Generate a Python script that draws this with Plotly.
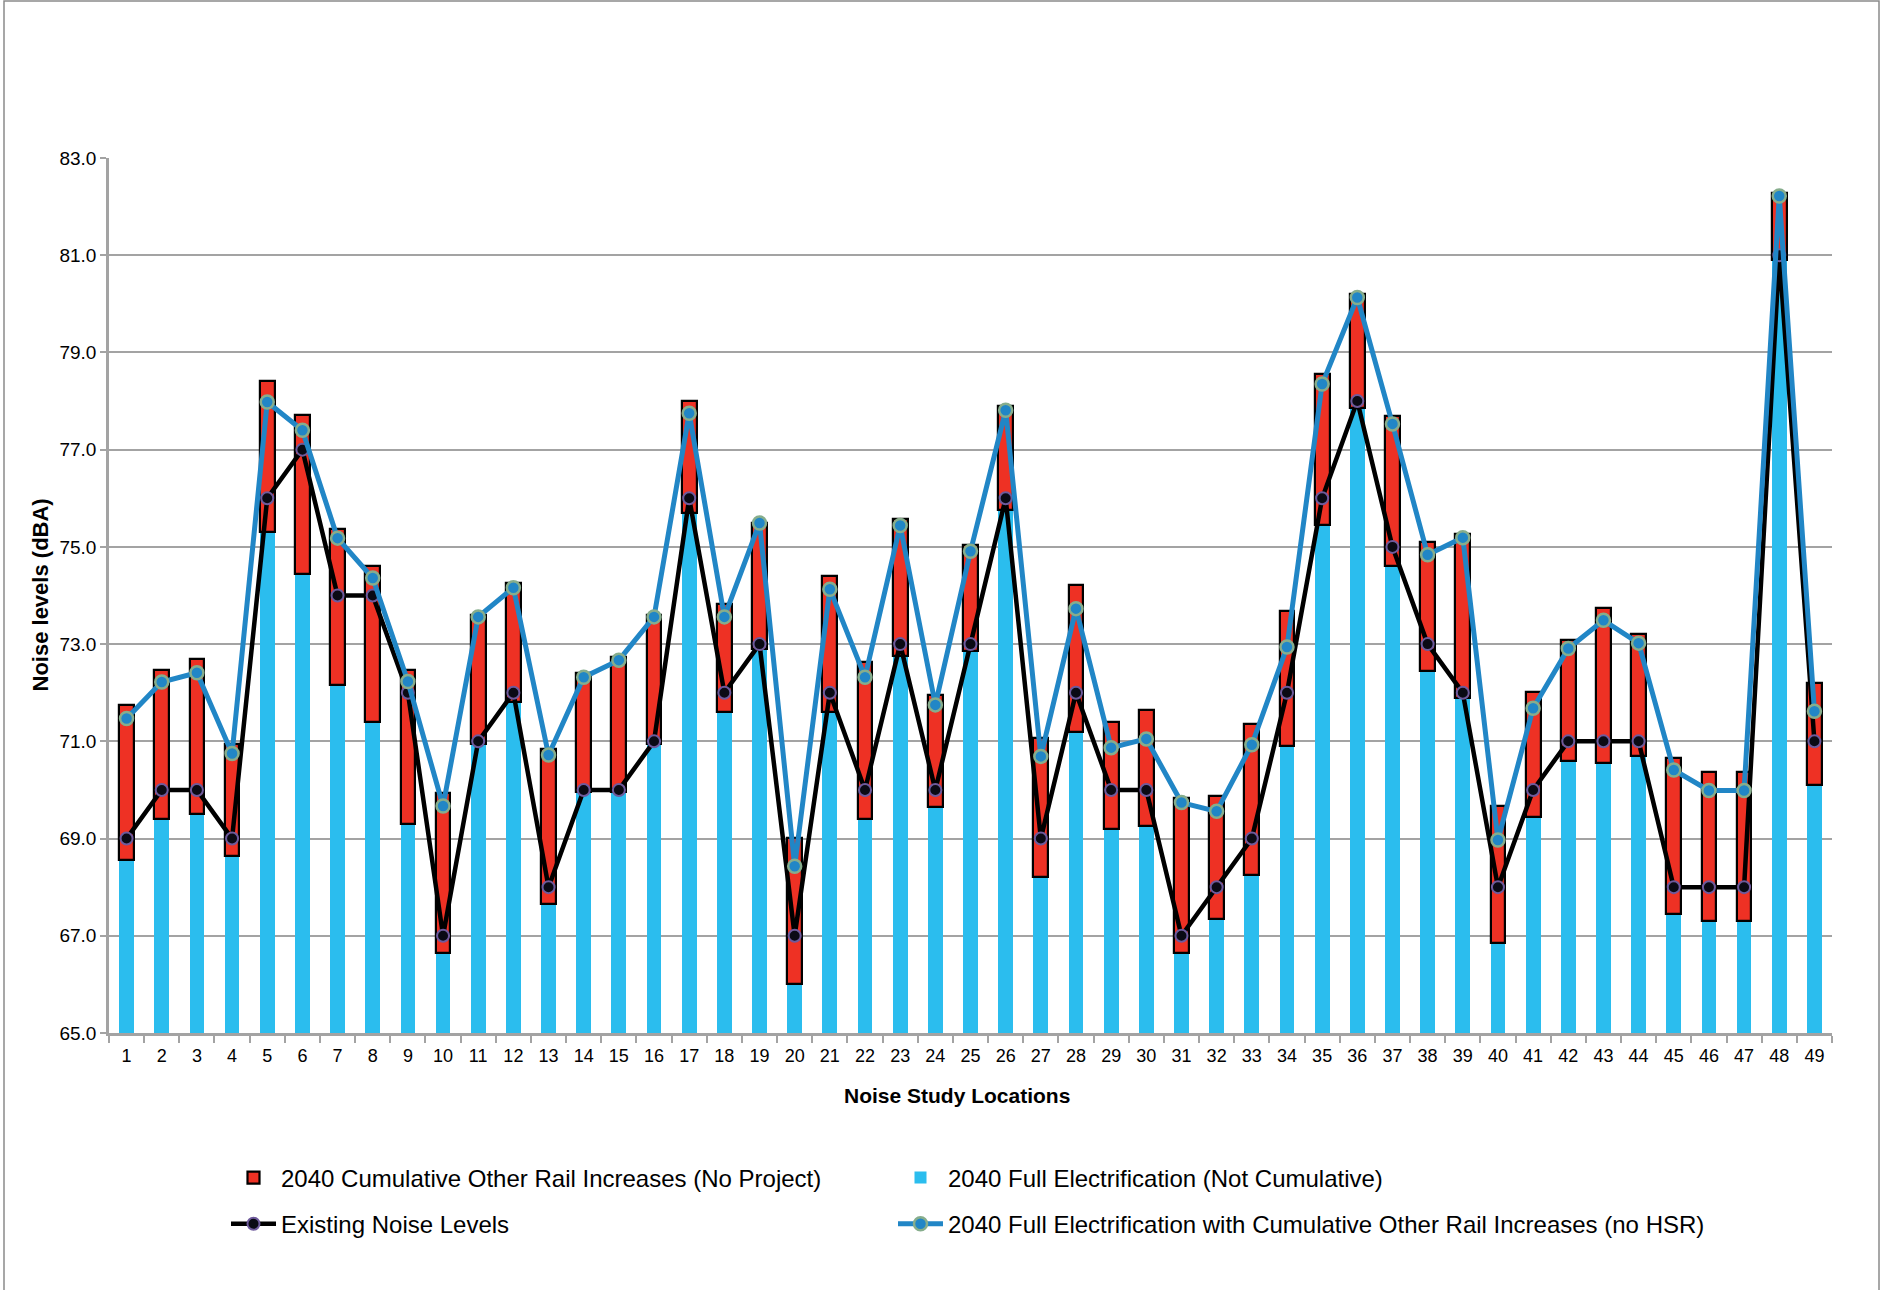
import plotly.graph_objects as go

# ---------------- data ----------------
locations = [str(i) for i in range(1, 50)]

existing = [69, 70, 70, 69, 76, 77, 74, 74, 72, 67,
            71, 72, 68, 70, 70, 71, 76, 72, 73, 67,
            72, 70, 73, 70, 73, 76, 69, 72, 70, 70,
            67, 68, 69, 72, 76, 78, 75, 73, 72, 68,
            70, 71, 71, 71, 68, 68, 68, 81, 71]

full_electrification = [68.55, 69.4, 69.5, 68.65, 75.3, 74.45, 72.15, 71.4, 69.3, 66.65,
                        70.95, 71.8, 67.65, 69.95, 69.95, 70.95, 75.7, 71.6, 72.9, 66.0,
                        71.6, 69.4, 72.75, 69.65, 72.85, 75.75, 68.2, 71.2, 69.2, 69.25,
                        66.65, 67.35, 68.25, 70.9, 75.45, 77.85, 74.6, 72.45, 71.9, 66.85,
                        69.45, 70.6, 70.55, 70.7, 67.45, 67.3, 67.3, 80.9, 70.1]

cumulative_other_rail_top = [71.75, 72.47, 72.7, 70.95, 78.42, 77.72, 75.36, 74.6, 72.47, 69.93,
                             73.6, 74.25, 70.84, 72.4, 72.74, 73.6, 78.0, 73.83, 75.5, 69.02,
                             74.4, 72.64, 75.58, 71.95, 75.03, 77.89, 71.07, 74.21, 71.39, 71.65,
                             69.84, 69.87, 71.36, 73.68, 78.56, 80.2, 77.69, 75.1, 75.27, 69.66,
                             72.01, 73.08, 73.74, 73.2, 70.66, 70.36, 70.36, 82.28, 72.2]

full_with_cumulative = [71.47, 72.22, 72.41, 70.75, 77.98, 77.4, 75.18, 74.36, 72.23, 69.67,
                        73.56, 74.16, 70.72, 72.32, 72.67, 73.56, 77.75, 73.56, 75.49, 68.43,
                        74.13, 72.32, 75.44, 71.75, 74.91, 77.81, 70.69, 73.73, 70.87, 71.05,
                        69.74, 69.56, 70.93, 72.94, 78.35, 80.13, 77.53, 74.84, 75.19, 68.97,
                        71.68, 72.91, 73.49, 73.02, 70.41, 69.99, 69.99, 82.22, 71.62]

y_ticks = [65, 67, 69, 71, 73, 75, 77, 79, 81, 83]

# ---------------- styling ----------------
FONT = "Liberation Sans, Arial, Helvetica, sans-serif"
RED = "#ee3124"
BAR_BLUE = "#2bbdee"
LINE_BLUE = "#2186c6"
GRID = "#a3a3a3"
W, H = 1881, 1290
L, R, T, B = 109, 49, 158, 257
pw, ph = W - L - R, H - T - B

red_height = [t - f for t, f in zip(cumulative_other_rail_top, full_electrification)]

fig = go.Figure()

fig.add_trace(go.Bar(
    x=locations, y=full_electrification, width=0.42,
    marker=dict(color=BAR_BLUE, line=dict(width=0)),
    name="2040 Full Electrification (Not Cumulative)",
    legend="legend2", legendgroup="b", legendrank=1,
))
fig.add_trace(go.Bar(
    x=locations, y=red_height, base=full_electrification, width=0.42,
    marker=dict(color=RED, line=dict(color="black", width=2.2)),
    name="2040 Cumulative Other Rail Increases (No Project)",
    legend="legend", legendgroup="a", legendrank=1,
))
fig.add_trace(go.Scatter(
    x=locations, y=existing, mode="lines+markers",
    line=dict(color="black", width=4.5),
    marker=dict(size=12, color="#0a0a14", line=dict(color="#6e5a9c", width=2)),
    name="Existing Noise Levels",
    legend="legend", legendgroup="c", legendrank=2,
))
fig.add_trace(go.Scatter(
    x=locations, y=full_with_cumulative, mode="lines+markers",
    line=dict(color=LINE_BLUE, width=5),
    marker=dict(size=13, color=LINE_BLUE, line=dict(color="#86ad8c", width=2.5)),
    name="2040 Full Electrification with Cumulative Other Rail Increases (no HSR)",
    legend="legend2", legendgroup="d", legendrank=2,
))

leg_common = dict(
    orientation="v", xref="container", yref="container",
    xanchor="left", yanchor="middle", y=1 - 1201 / H,
    font=dict(family=FONT, size=24, color="black"),
    itemwidth=45, tracegroupgap=12,
    bgcolor="rgba(0,0,0,0)", traceorder="grouped",
)

fig.update_layout(
    width=W, height=H,
    margin=dict(l=L, r=R, t=T, b=B, autoexpand=False),
    paper_bgcolor="white", plot_bgcolor="white",
    barmode="overlay", bargap=0,
    font=dict(family=FONT, color="black"),
    showlegend=True,
    legend=dict(leg_common, x=226 / W),
    legend2=dict(leg_common, x=893 / W),
)

fig.update_yaxes(
    range=[65, 83], tickvals=y_ticks, tickformat=".1f",
    showgrid=True, gridcolor=GRID, gridwidth=2,
    showline=True, linecolor=GRID, linewidth=2.5,
    ticks="outside", ticklen=6, tickwidth=2, tickcolor=GRID,
    tickfont=dict(family=FONT, size=19, color="black"),
    zeroline=False, automargin=False,
)
fig.update_xaxes(
    type="category", categoryorder="array", categoryarray=locations,
    range=[-0.5, 48.5],
    showgrid=False, showline=True, linecolor=GRID, linewidth=2.5,
    ticks="outside", tickson="boundaries", ticklen=7, tickwidth=2, tickcolor=GRID,
    tickfont=dict(family=FONT, size=18, color="black"),
    ticklabelstandoff=5,
    zeroline=False, automargin=False,
)

# axis titles
fig.add_annotation(text="<b>Noise levels (dBA)</b>", xref="paper", yref="paper",
                   x=(40 - L) / pw, y=0.5, textangle=-90, showarrow=False,
                   xanchor="center", yanchor="middle",
                   font=dict(family=FONT, size=22, color="black"))
fig.add_annotation(text="<b>Noise Study Locations</b>", xref="paper", yref="paper",
                   x=(957 - L) / pw, y=(T + ph - 1095) / ph, showarrow=False,
                   xanchor="center", yanchor="middle",
                   font=dict(family=FONT, size=21, color="black"))

# thin frame around the whole picture
fig.add_shape(type="rect", xref="paper", yref="paper",
              x0=(4 - L) / pw, x1=(1879 - L) / pw,
              y0=-(B + 20) / ph, y1=(ph + T - 1) / ph,
              line=dict(color="#8a8a8a", width=1.5), fillcolor="rgba(0,0,0,0)", layer="below")

fig.write_html("out.html", config={"displayModeBar": False},
               post_script="document.body.style.margin='0px';")
